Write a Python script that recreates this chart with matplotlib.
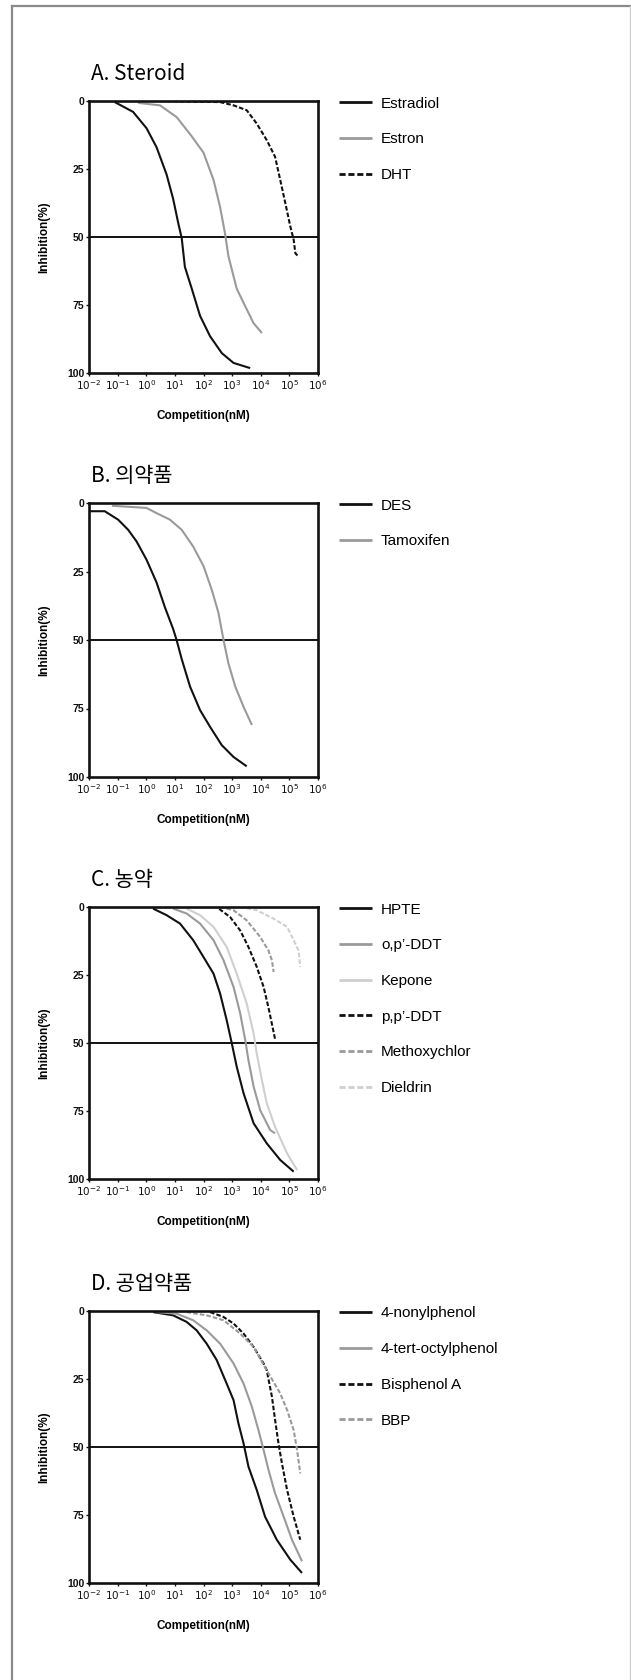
import matplotlib
matplotlib.use("Agg")
import matplotlib.pyplot as plt
from matplotlib.lines import Line2D
import numpy as np

W, H = 631, 1680
DPI = 100

# ---------------- data (log10 concentration in nM, % inhibition) ----------------
# Panel A. Steroid
estradiol_logc = [-1.1, -0.46, 0.01, 0.36, 0.71, 0.94, 1.12, 1.24, 1.35, 1.59, 1.88, 2.23, 2.64, 3.05, 3.63]
estradiol_inh = [0.4, 4, 10, 17, 27, 36, 45, 50.5, 61, 69, 79, 86.5, 92.7, 96.3, 98.2]
estron_logc = [-0.28, 0.48, 1.06, 1.59, 2.0, 2.35, 2.58, 2.75, 2.87, 3.16, 3.46, 3.75, 4.04]
estron_inh = [0.7, 1.6, 5.9, 13, 19, 29, 39, 48.6, 57, 69, 75.5, 81.7, 85.3]
dht_logc = [0.24, 2.58, 3.05, 3.51, 3.86, 4.21, 4.5, 4.68, 4.86, 5.03, 5.15, 5.21, 5.32]
dht_inh = [0, 0.4, 1.6, 3.4, 8.3, 14.4, 20.5, 29, 37.6, 46, 51, 56, 57.2]

# Panel B. 의약품
des_logc = [-2.0, -1.45, -0.98, -0.63, -0.34, 0.01, 0.36, 0.65, 0.94, 1.06, 1.24, 1.53, 1.88, 2.23, 2.64, 3.05, 3.51]
des_inh = [3, 3, 6.1, 9.8, 14, 20.7, 29, 38, 46, 50, 57, 67, 75.6, 81.7, 88.4, 92.7, 96.1]
tamox_logc = [-1.2, 0.01, 0.36, 0.83, 1.24, 1.64, 2.0, 2.29, 2.52, 2.7, 2.87, 3.11, 3.4, 3.69]
tamox_inh = [1, 1.8, 3.7, 6.1, 9.8, 15.9, 23, 31.7, 40, 50, 58.5, 67, 74.4, 81]

# Panel C. 농약
hpte_logc = [0.24, 0.71, 1.18, 1.64, 2.0, 2.35, 2.58, 2.81, 2.99, 3.16, 3.4, 3.75, 4.21, 4.68, 5.15]
hpte_inh = [0.6, 3, 6.1, 12.2, 18.4, 24.5, 31.8, 41.6, 50.2, 58.7, 68.5, 79.5, 86.9, 93, 97.3]
opddt_logc = [0.94, 1.41, 1.88, 2.35, 2.7, 3.05, 3.28, 3.46, 3.57, 3.75, 3.98, 4.33, 4.5]
opddt_inh = [0.6, 2.4, 6.1, 12.2, 19.6, 29.4, 39, 49, 56.3, 66, 74.7, 82, 83.2]
kepone_logc = [1.41, 1.88, 2.35, 2.81, 3.16, 3.51, 3.75, 3.86, 4.04, 4.21, 4.5, 4.92, 5.27]
kepone_inh = [0.6, 3, 7.3, 14.7, 24.5, 35.5, 46.5, 53.9, 63.6, 72.2, 80.8, 90.6, 96.7]
ppddt_logc = [1.64, 2.46, 2.93, 3.28, 3.57, 3.86, 4.1, 4.27, 4.39, 4.5]
ppddt_inh = [0, 0, 3.7, 8.6, 14.7, 22, 29.4, 37, 43, 48.6]
methoxy_logc = [2.58, 3.05, 3.51, 3.98, 4.27, 4.39, 4.45]
methoxy_inh = [0, 1.2, 4.9, 11, 16, 19.6, 23.9]
dieldrin_logc = [3.28, 3.86, 4.45, 4.92, 5.15, 5.32, 5.38]
dieldrin_inh = [0, 1.2, 4.3, 7.3, 12.2, 16, 22]

# Panel D. 공업약품
nonyl_logc = [0.24, 0.94, 1.41, 1.76, 2.11, 2.46, 2.81, 3.05, 3.22, 3.4, 3.57, 3.86, 4.15, 4.56, 5.03, 5.44]
nonyl_inh = [0.4, 1.6, 4, 7.1, 12, 18, 26.7, 32.8, 41.3, 48.7, 57.2, 65.8, 75.6, 84.1, 91.4, 96.3]
octyl_logc = [0.36, 1.06, 1.64, 2.11, 2.58, 3.05, 3.4, 3.69, 3.92, 4.1, 4.27, 4.5, 4.8, 5.09, 5.44]
octyl_inh = [0.4, 1, 3.4, 7.1, 12, 19.3, 26.7, 35.2, 43.8, 51.1, 58.4, 67, 75.6, 84.1, 92]
bpa_logc = [2.23, 2.7, 3.05, 3.4, 3.75, 4.1, 4.21, 4.39, 4.5, 4.62, 4.74, 4.92, 5.15, 5.38]
bpa_inh = [0.4, 2.2, 4.6, 8.3, 13.2, 19.3, 21.8, 31.5, 40, 48.7, 56, 65.8, 75.6, 84.1]
bbp_logc = [1.41, 2.11, 2.7, 3.28, 3.75, 4.21, 4.68, 4.92, 5.15, 5.27, 5.38]
bbp_inh = [0.4, 1.6, 3.4, 8.3, 13.2, 21.8, 30.3, 36.4, 43.8, 51.1, 59.7]

tick_exponents = [-2, -1, 0, 1, 2, 3, 4, 5, 6]
y_ticks = [0, 25, 50, 75, 100]

panel_titles = ["A. Steroid", "B. 의약품", "C. 농약", "D. 공업약품"]
x_label = "Competition(nM)"
y_label = "Inhibition(%)"

# ---------------- styles ----------------
BLACK, GRAY, LIGHT = "#111111", "#9a9a9a", "#cfcfcf"
SOLID = "-"
DASH = (0, (2.2, 1.0))

panels = [
    dict(title=panel_titles[0], top=101, bottom=373, series=[
        ("Estradiol", estradiol_logc, estradiol_inh, BLACK, SOLID),
        ("Estron", estron_logc, estron_inh, GRAY, SOLID),
        ("DHT", dht_logc, dht_inh, BLACK, DASH)]),
    dict(title=panel_titles[1], top=503, bottom=777, series=[
        ("DES", des_logc, des_inh, BLACK, SOLID),
        ("Tamoxifen", tamox_logc, tamox_inh, GRAY, SOLID)]),
    dict(title=panel_titles[2], top=907, bottom=1179, series=[
        ("HPTE", hpte_logc, hpte_inh, BLACK, SOLID),
        ("o,p’-DDT", opddt_logc, opddt_inh, GRAY, SOLID),
        ("Kepone", kepone_logc, kepone_inh, LIGHT, SOLID),
        ("p,p’-DDT", ppddt_logc, ppddt_inh, BLACK, DASH),
        ("Methoxychlor", methoxy_logc, methoxy_inh, GRAY, DASH),
        ("Dieldrin", dieldrin_logc, dieldrin_inh, LIGHT, DASH)]),
    dict(title=panel_titles[3], top=1311, bottom=1583, series=[
        ("4-nonylphenol", nonyl_logc, nonyl_inh, BLACK, SOLID),
        ("4-tert-octylphenol", octyl_logc, octyl_inh, GRAY, SOLID),
        ("Bisphenol A", bpa_logc, bpa_inh, BLACK, DASH),
        ("BBP", bbp_logc, bbp_inh, GRAY, DASH)]),
]

NARROW = ["Liberation Sans Narrow", "Liberation Sans", "DejaVu Sans"]
TITLE_FONT = ["Liberation Sans Narrow", "Noto Sans CJK KR", "DejaVu Sans"]

fig = plt.figure(figsize=(W / DPI, H / DPI), dpi=DPI)
fig.patch.set_facecolor("white")

# page frame
fig.add_artist(Line2D([12 / W, 12 / W], [0, 1 - 6 / H], transform=fig.transFigure, color="#8a8a8a", lw=1.6))
fig.add_artist(Line2D([12 / W, 1], [1 - 6 / H, 1 - 6 / H], transform=fig.transFigure, color="#8a8a8a", lw=1.6))
fig.add_artist(Line2D([629.5 / W, 629.5 / W], [0, 1 - 6 / H], transform=fig.transFigure, color="#d0d0d0", lw=1.0))

AX_L, AX_R = 89, 318
for p in panels:
    top, bot = p["top"], p["bottom"]
    ax = fig.add_axes([AX_L / W, 1 - bot / H, (AX_R - AX_L) / W, (bot - top) / H])
    ax.set_xscale("log")
    ax.set_xlim(10.0 ** tick_exponents[0], 10.0 ** tick_exponents[-1])
    ax.set_ylim(100, 0)
    for name, lc, inh, col, ls in p["series"]:
        ax.plot(10.0 ** np.asarray(lc), inh, color=col, ls=ls, lw=1.5, label=name, solid_capstyle="butt")
    ax.axhline(50, color=BLACK, lw=1.4, zorder=1)
    for s in ax.spines.values():
        s.set_linewidth(1.9)
        s.set_color(BLACK)
    ax.set_xticks([10.0 ** e for e in tick_exponents])
    ax.set_xticklabels([r"$10^{%d}$" % e for e in tick_exponents], fontsize=7.5)
    ax.xaxis.set_minor_locator(matplotlib.ticker.NullLocator())
    ax.set_yticks(y_ticks)
    ax.set_yticklabels([str(v) for v in y_ticks], fontsize=7.5, family=NARROW, fontweight="bold")
    ax.tick_params(axis="both", length=2, width=1, pad=1.5, colors=BLACK)
    ax.set_xlabel(x_label, fontsize=8.5, fontweight="bold", family=NARROW, labelpad=13)
    ax.set_ylabel(y_label, fontsize=8.5, fontweight="bold", family=NARROW, labelpad=12)
    fig.text(91 / W, 1 - (top - 27) / H, p["title"], fontsize=15, family=TITLE_FONT,
             ha="left", va="center", fontweight="light")
    ax.legend(loc="upper left", bbox_to_anchor=(339 / W, 1 - (top - 4.5) / H),
              bbox_transform=fig.transFigure, frameon=False, borderpad=0, borderaxespad=0,
              handlelength=2.15, handletextpad=0.6, labelspacing=1.42,
              prop=dict(family=["Liberation Sans", "DejaVu Sans"], size=11))
    for line in ax.get_legend().get_lines():
        line.set_linewidth(2.0)

fig.savefig("out.png", dpi=DPI, facecolor="white")
